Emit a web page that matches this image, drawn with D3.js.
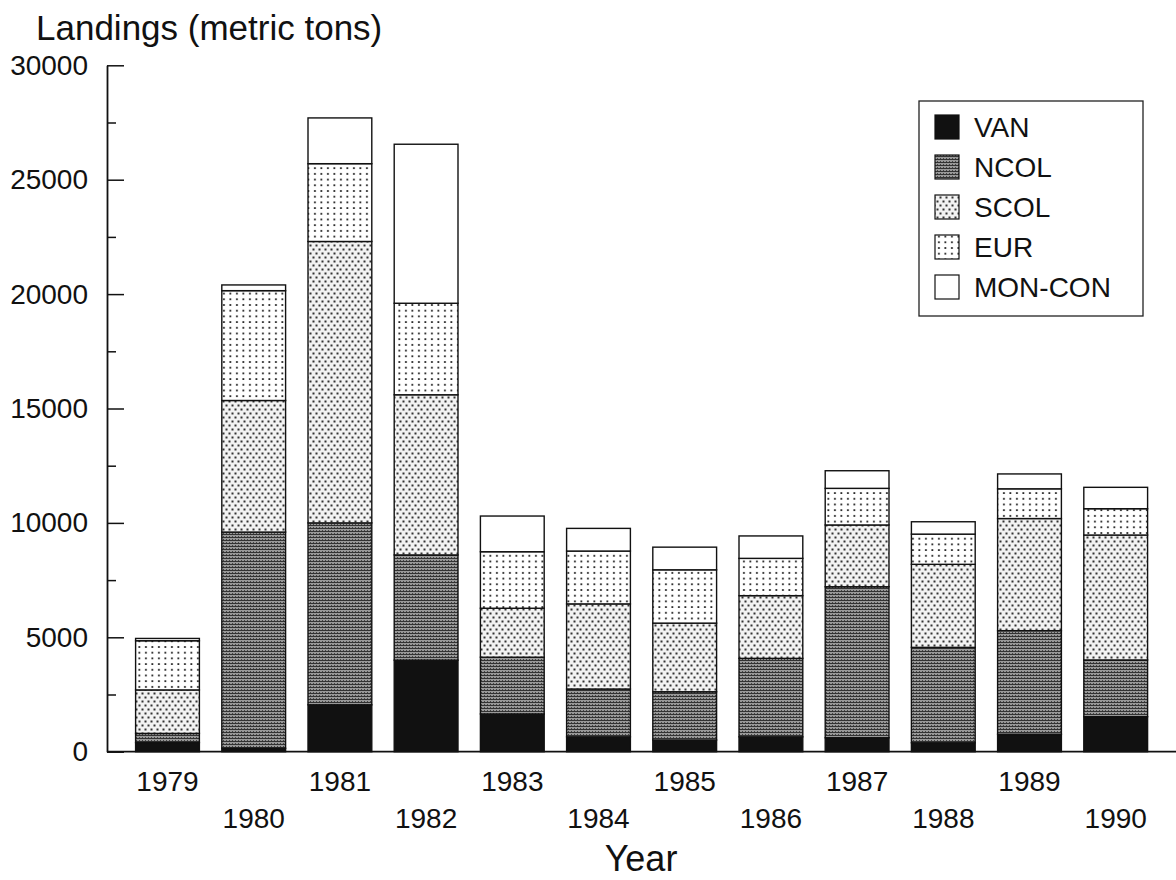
<!DOCTYPE html>
<html>
<head>
<meta charset="utf-8">
<script src="https://cdn.jsdelivr.net/npm/d3@7"></script>
<style>
  html, body { margin: 0; padding: 0; background: #fff; }
  svg { display: block; font-family: "Liberation Sans", Arial, Helvetica, sans-serif; }
</style>
</head>
<body>
<svg id="chart" width="1176" height="880"></svg>
<script>
// ---- Data ----
const years   = ["1979","1980","1981","1982","1983","1984","1985","1986","1987","1988","1989","1990"];
const VAN     = [400, 150, 2050, 4000, 1650, 650, 510, 650, 610, 390, 760, 1530];
const NCOL    = [400, 9450, 7950, 4600, 2480, 2090, 2110, 3430, 6600, 4170, 4530, 2480];
const SCOL    = [1900, 5750, 12300, 7000, 2140, 3720, 3000, 2740, 2700, 3630, 4900, 5460];
const EUR     = [2150, 4800, 3400, 4000, 2470, 2310, 2330, 1630, 1600, 1320, 1300, 1150];
const MONCON  = [100, 250, 2000, 6950, 1560, 990, 990, 980, 770, 540, 650, 935];
const seriesNames = ["VAN", "NCOL", "SCOL", "EUR", "MON-CON"];
const majorTicks = [0, 5000, 10000, 15000, 20000, 25000, 30000];
const minorTicks = [2500, 7500, 12500, 17500, 22500, 27500];

const seriesData = { "VAN": VAN, "NCOL": NCOL, "SCOL": SCOL, "EUR": EUR, "MON-CON": MONCON };
const rows = years.map((y, i) => {
  const r = { year: y };
  seriesNames.forEach(s => r[s] = seriesData[s][i]);
  return r;
});

const svg = d3.select("#chart");
svg.append("rect").attr("width", 1176).attr("height", 880).attr("fill", "#fff");

// ---- Patterns ----
const defs = svg.append("defs");
const pNCOL = defs.append("pattern").attr("id", "pNCOL").attr("patternUnits", "userSpaceOnUse")
  .attr("width", 3).attr("height", 3);
pNCOL.append("rect").attr("width", 3).attr("height", 3).attr("fill", "#999");
pNCOL.append("rect").attr("width", 3).attr("height", 1).attr("fill", "#333");
pNCOL.append("rect").attr("x", 1).attr("y", 2).attr("width", 1).attr("height", 1).attr("fill", "#444");

const pSCOL = defs.append("pattern").attr("id", "pSCOL").attr("patternUnits", "userSpaceOnUse")
  .attr("width", 6).attr("height", 8);
pSCOL.append("rect").attr("width", 6).attr("height", 8).attr("fill", "#f2f2f2");
pSCOL.append("rect").attr("x", 0.5).attr("y", 0.5).attr("width", 2).attr("height", 2).attr("fill", "#333");
pSCOL.append("rect").attr("x", 3.5).attr("y", 4.5).attr("width", 2).attr("height", 2).attr("fill", "#333");

const pEUR = defs.append("pattern").attr("id", "pEUR").attr("patternUnits", "userSpaceOnUse")
  .attr("width", 6.5).attr("height", 5.7);
pEUR.append("rect").attr("width", 6.5).attr("height", 5.7).attr("fill", "#fff");
pEUR.append("rect").attr("x", 2).attr("y", 2).attr("width", 1.8).attr("height", 1.8).attr("fill", "#222");

const fills = { "VAN": "#111", "NCOL": "url(#pNCOL)", "SCOL": "url(#pSCOL)", "EUR": "url(#pEUR)", "MON-CON": "#fff" };

// ---- Scales ----
const x = d3.scaleBand().domain(years).range([124.4, 1158.8]).paddingInner(0.26).paddingOuter(0.13);
const y = d3.scaleLinear().domain([0, 30000]).range([751.7, 65.3]);

const stack = d3.stack().keys(seriesNames)(rows);

// ---- Bars ----
const g = svg.append("g");
stack.forEach(layer => {
  g.append("g").selectAll("rect").data(layer).join("rect")
    .attr("x", d => x(d.data.year))
    .attr("width", x.bandwidth())
    .attr("y", d => y(d[1]))
    .attr("height", d => y(d[0]) - y(d[1]))
    .attr("fill", fills[layer.key])
    .attr("stroke", "#111")
    .attr("stroke-width", 1.4);
});

// ---- Y axis ----
const yAxis = d3.axisLeft(y).tickValues(majorTicks).tickSizeInner(-17).tickSizeOuter(0).tickPadding(19)
  .tickFormat(d3.format("d"));
const yg = svg.append("g").attr("transform", "translate(107,0)").call(yAxis);
yg.selectAll("text").attr("font-size", 28).attr("fill", "#111");
yg.selectAll("line").attr("stroke", "#111").attr("stroke-width", 1.5);
yg.select(".domain").attr("stroke", "#111").attr("stroke-width", 1.8);

const yMinor = d3.axisLeft(y).tickValues(minorTicks).tickSizeInner(-9).tickSizeOuter(0).tickFormat("");
const ym = svg.append("g").attr("transform", "translate(107,0)").call(yMinor);
ym.select(".domain").remove();
ym.selectAll("line").attr("stroke", "#111").attr("stroke-width", 1.5);

// ---- X axis ----
svg.append("line").attr("x1", 107).attr("x2", 1176).attr("y1", y(0)).attr("y2", y(0))
  .attr("stroke", "#111").attr("stroke-width", 1.8);
const xAxis = d3.axisBottom(x).tickSize(0).tickPadding(0);
const xg = svg.append("g").attr("transform", `translate(0,${y(0)})`).call(xAxis);
xg.select(".domain").remove();
xg.selectAll("text")
  .attr("font-size", 28).attr("fill", "#111")
  .attr("dy", null)
  .attr("y", (d, i) => i % 2 === 0 ? 39 : 76);

// ---- Titles ----
svg.append("text").attr("x", 36).attr("y", 40).attr("font-size", 35).attr("fill", "#111")
  .text("Landings (metric tons)");
svg.append("text").attr("x", 641).attr("y", 871).attr("text-anchor", "middle").attr("font-size", 36)
  .attr("fill", "#111").text("Year");

// ---- Legend ----
const lg = svg.append("g");
lg.append("rect").attr("x", 919).attr("y", 101).attr("width", 224).attr("height", 215)
  .attr("fill", "#fff").attr("stroke", "#222").attr("stroke-width", 1.3);
seriesNames.forEach((s, i) => {
  const cy = 127 + i * 40;
  lg.append("rect").attr("x", 935).attr("y", cy - 12).attr("width", 24).attr("height", 24)
    .attr("fill", fills[s]).attr("stroke", "#111").attr("stroke-width", 1.2);
  lg.append("text").attr("x", 974).attr("y", cy + 10).attr("font-size", 28).attr("fill", "#111").text(s);
});
</script>
</body>
</html>
